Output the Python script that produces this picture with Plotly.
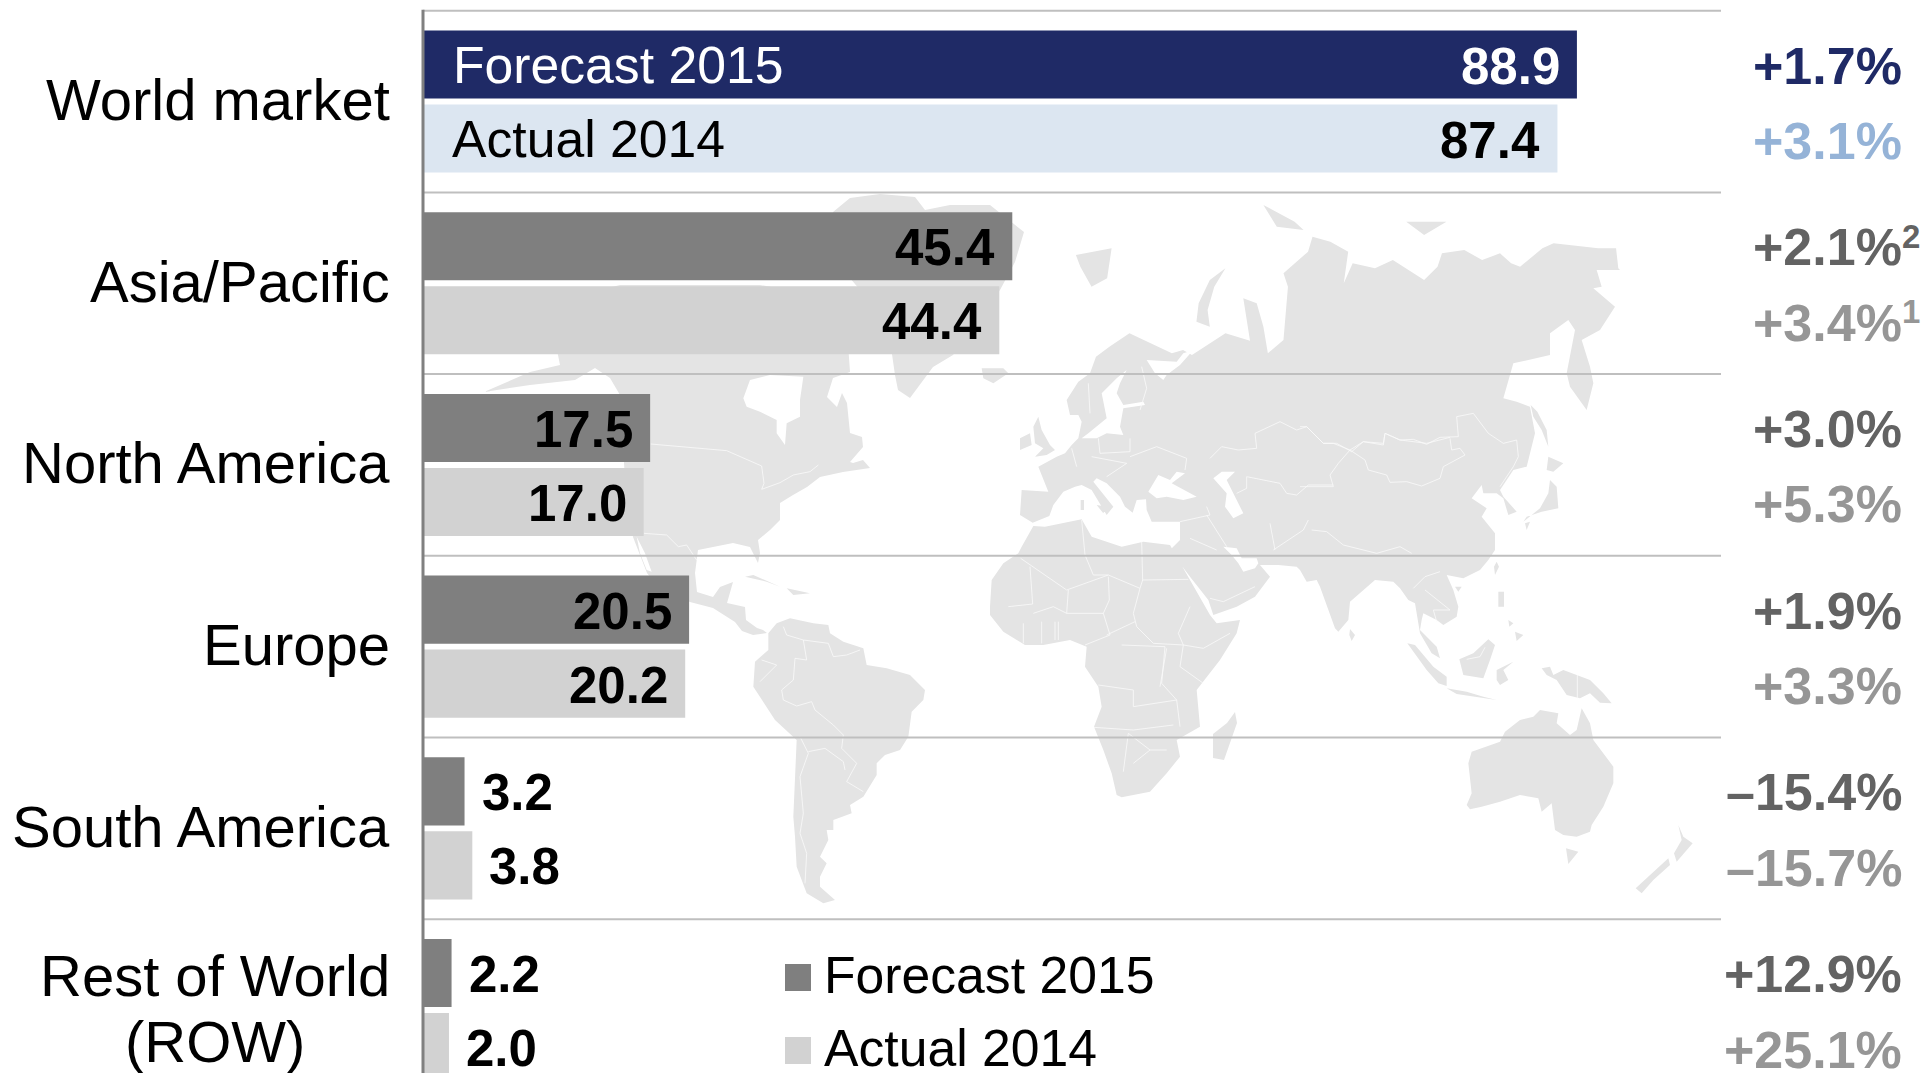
import plotly.graph_objects as go

# ---------- chart data ----------
REGIONS = ["World market", "Asia/Pacific", "North America", "Europe", "South America", "Rest of World (ROW)"]
FORECAST_2015 = [88.9, 45.4, 17.5, 20.5, 3.2, 2.2]
ACTUAL_2014 = [87.4, 44.4, 17.0, 20.2, 3.8, 2.0]
FORECAST_GROWTH = ["+1.7%", "+2.1%", "+3.0%", "+1.9%", "–15.4%", "+12.9%"]
ACTUAL_GROWTH = ["+3.1%", "+3.4%", "+5.3%", "+3.3%", "–15.7%", "+25.1%"]
FORECAST_NOTE = ["", "2", "", "", "", ""]
ACTUAL_NOTE = ["", "1", "", "", "", ""]

FONT = "Liberation Sans, Arial, sans-serif"
NAVY, PALE = "#1F2A66", "#DCE6F1"
DARK, LIGHT = "#7F7F7F", "#D2D2D2"
MAP = "#E4E4E4"

# ---------- background map outlines ----------
# each piece: (origin x, origin y, x scale, y scale, points)
LAND = [
    [(0, 0, 1, 1, [(484,392),(530,372),(560,365),(553,330),(560,300),(620,285),(760,285),(845,300),(850,372),(833,378),(827,397),
                   (837,407),(842,393),(847,403),(850,433),(862,437),(863,447),(850,462),(853,463),(863,460),(870,468),(843,472),
                   (820,477),(807,487),(793,495),(780,503),(780,520),(770,530),(758,540),(760,553),(758,563),(750,547),(733,543),
                   (713,547),(698,550),(695,573),(697,592),(713,597),(720,587),(733,582),(727,603),(745,607),(746,620),(757,628),
                   (763,630),(767,633),(753,635),(742,631),(735,622),(713,608),(690,602),(660,590),(647,573),(633,537),(625,480),
                   (620,395),(610,378),(595,368),(575,380),(530,385)])],
    [(0, 0, 1, 1, [(833,212),(850,198),(880,194),(915,197),(925,210),(950,205),(990,205),(1024,232),(1015,262),(1000,290),(985,310),
                   (953,355),(933,367),(923,380),(910,398),(898,390),(895,375),(892,354),(885,330),(860,290),(835,260)])],
    [(700, 600, 3, 3, [(205,100),(230,70),(270,55),(340,70),(385,75),(390,100),(430,125),(490,145),(500,195),(560,205),(630,225),
                       (675,270),(670,300),(635,335),(625,410),(600,450),(555,465),(530,490),(530,525),(490,590),(450,615),(455,640),
                       (400,660),(400,690),(380,690),(385,720),(360,770),(380,790),(360,830),(360,860),(405,900),(370,910),(320,880),
                       (290,800),(285,710),(280,650),(290,420),(225,360),(160,260),(165,185),(205,150)])],
    [(950, 350, 3, 3, [(250,528),(285,530),(395,508),(425,560),(515,590),(580,575),(660,585),(680,620),(720,690),(780,795),(800,820),
                       (870,810),(860,850),(810,930),(740,1020)]),
     (700, 600, 3, 3, [(1500,380),(1430,420),(1440,470),(1400,520),(1350,575),(1265,592),(1250,585),(1235,520),(1210,450),(1182,380),
                       (1205,320),(1195,260),(1155,200),(1160,140),(1110,120),(1030,135),(975,135),(910,95),(870,45),(870,0)]),
     (950, 350, 3, 3, [(120,770),(125,690),(160,640),(205,610),(215,590)])],
    [(950, 350, 3, 3, [(248,518),(210,495),(215,420),(295,425),(265,350),(320,320),(345,310),(365,285),(385,265),(395,215),(385,195),
                       (360,195),(350,150),(385,95),(420,70)]),
     (1000, 180, 2.24, 3, [(215,530),(245,500),(290,460),(385,520),(410,510),(430,525),(505,460),(560,482),(545,355),(575,370),(590,440),
                           (600,520),(635,480),(645,320),(635,280),(690,215),(700,170),(740,185),(780,215),(770,310),(790,250),(840,265),
                           (880,240),(950,300),(980,260),(990,220),(1040,210),(1080,240),(1120,220),(1145,250),(1165,260),(1215,205),
                           (1240,190),(1340,205),(1380,205),(1385,265)]),
     (1300, 200, 3, 3, [(960,210),(890,210),(905,260),(880,265),(945,320),(900,390),(845,420),(870,500),(880,550),(860,630),(810,560),
                         (800,520),(820,420),(825,390),(805,360),(750,400),(750,465),(640,490),(610,595),(650,605),(690,620),(705,700),
                         (680,800),(640,810),(600,870),(610,890),(650,935),(625,945),(610,895),(590,880),(550,880),(545,855),(515,895),
                         (545,915),(560,925),(545,950),(585,1000),(585,1050)]),
     (1300, 560, 3, 3, [(565,0),(540,30),(490,55),(440,45),(460,90),(475,140),(470,170),(430,195),(410,180),(370,160),(365,180),(360,210),
                         (410,260),(420,295),(395,280),(360,220),(345,130),(325,120),(300,85),(280,65),(225,60),(150,125),(145,180),
                         (115,215),(105,205),(60,80),(50,60),(20,65),(0,30)]),
     (950, 350, 3, 3, [(1050,660),(1040,650),(985,645),(930,645),(960,680),(915,740),(860,770),(790,795),(775,750),(720,680),(660,600),
                        (690,570),(690,515),(605,515),(590,480),(588,448),(560,450),(548,488),(525,470),(510,440),(470,400),(440,385),
                        (430,395),(490,470),(470,495),(425,420),(395,405),(375,410),(340,425),(310,465),(298,498)])],
    [(1300, 560, 3, 3, [(845,445),(870,490),(880,540),(940,620),(940,670),(910,740),(875,795),(870,815),(830,830),(790,825),(765,810),
                        (755,730),(725,755),(715,715),(660,705),(600,725),(545,740),(510,748),(500,735),(515,700),(505,610),(515,575),
                        (600,545),(615,515),(660,480),(700,470),(720,450),(775,460),(770,490),(810,525),(830,510)])],
    [(1300, 560, 3, 3, [(798,865),(835,875),(805,912)])],
    [(1300, 560, 3, 3, [(1135,795),(1150,830),(1178,850),(1130,905),(1122,880),(1145,840)])],
    [(1300, 560, 3, 3, [(1105,895),(1110,915),(1060,960),(1025,1000),(1007,985),(1050,945)])],
    [(1300, 560, 3, 3, [(725,325),(750,320),(760,345),(790,330),(870,360),(910,400),(935,430),(900,428),(870,400),(840,415),(800,405),(770,360),(740,345)])],
    [(1300, 560, 3, 3, [(565,238),(585,255),(570,300),(550,355),(490,345),(478,298),(520,280)])],
    [(1300, 560, 3, 3, [(590,330),(640,305),(610,330),(625,360),(600,375),(590,360)])],
    [(1300, 560, 3, 3, [(322,250),(345,255),(400,320),(440,350),(440,378),(415,370),(380,330)])],
    [(1300, 560, 3, 3, [(440,385),(500,395),(550,410),(590,420),(525,410),(470,402)])],
    [(1300, 560, 3, 3, [(595,95),(612,95),(612,140),(595,140)])],
    [(1300, 560, 3, 3, [(645,215),(670,225),(650,243)])],
    [(1300, 560, 3, 3, [(625,180),(640,190),(628,200)])],
    [(1300, 560, 3, 3, [(150,207),(165,225),(155,243),(148,225)])],
    [(1300, 560, 3, 3, [(465,80),(485,80),(475,95)])],
    [(1300, 200, 3, 3, [(590,1085),(597,1100),(585,1125),(582,1100)])],
    [(1300, 200, 3, 3, [(692,615),(712,635),(740,690),(745,740),(725,690),(700,650)])],
    [(1300, 200, 3, 3, [(745,770),(790,790),(760,815),(740,810)])],
    [(1300, 200, 3, 3, [(750,840),(770,860),(775,925),(725,935),(680,950),(670,965),(720,925),(745,880)])],
    [(1300, 200, 3, 3, [(675,970),(690,965),(680,990)])],
    [(950, 350, 3, 3, [(95,55),(160,55),(175,70),(130,100),(100,85)])],
    [(950, 350, 3, 3, [(265,200),(275,240),(300,285),(315,300),(290,315),(255,320),(280,295),(255,280),(250,230)])],
    [(950, 350, 3, 3, [(210,265),(240,250),(245,285),(210,300)])],
    [(950, 350, 3, 3, [(392,450),(402,450),(402,480),(392,480)])],
    [(950, 350, 3, 3, [(440,465),(470,470),(460,490)])],
    [(1000, 180, 2.24, 3, [(170,225),(250,205),(240,295),(205,320),(180,260)])],
    [(1000, 180, 2.24, 3, [(505,265),(470,300),(445,370),(440,425),(470,440),(465,390),(480,320)])],
    [(1000, 180, 2.24, 3, [(590,75),(620,140),(680,150),(660,125)])],
    [(1000, 180, 2.24, 3, [(910,125),(950,165),(1000,125)])],
    [(0, 0, 1, 1, [(1235,712),(1237,723),(1224,760),(1213,758),(1213,734),(1227,723)])],
    [(580, 340, 3, 3, [(495,710),(520,705),(600,740),(560,725)])],
    [(580, 340, 3, 3, [(620,745),(690,760),(640,765)])],
]
WATER = [
    [(580, 340, 3, 3, [(490,175),(510,120),(570,105),(670,110),(660,180),(660,230),(620,250),(615,315),(590,280),(590,240),(540,215),(500,200)])],
    [(580, 340, 3, 3, [(170,590),(195,640),(215,695),(200,690),(180,640)])],
    [(950, 350, 3, 3, [(595,425),(625,375),(660,390),(680,365),(705,370),(665,400),(740,440),(700,450),(650,440),(620,445)])],
    [(950, 350, 3, 3, [(790,385),(815,365),(855,365),(830,390),(880,490),(850,505),(825,470),(830,430)])],
    [(950, 350, 3, 3, [(820,590),(860,595),(875,625),(920,625),(925,640),(915,655),(880,665),(865,640),(845,615)])],
    [(950, 350, 3, 3, [(395,265),(415,250),(470,205),(455,130),(500,85),(530,60),(510,100),(500,130),(520,165),(580,155),(585,165),(520,175),(510,230),(520,255),(470,250),(440,265)])],
    [(950, 350, 3, 3, [(590,30),(680,35),(700,10),(730,0),(690,45),(650,75),(640,90),(615,70)])],
]
BORDERS = [
    (580, 340, [(212,312),(440,332),(545,378),(552,430),(545,448),(600,428),(640,405),(690,395),(715,375)]),
    (580, 340, [(192,580),(260,585),(295,620),(320,615),(350,660)]),
    (950, 350, [(780,325),(815,290),(865,300),(920,295),(915,250),(990,215),(1040,240),(1070,230),(1120,280),(1160,280),(1205,305)]),
    (950, 350, [(1205,305),(1240,275),(1300,280),(1305,250),(1350,270),(1430,280),(1500,262)]),
    (1300, 200, [(0,680),(20,680),(70,730),(100,730),(150,750),(190,725),(250,735),(255,700),(300,720),(340,718),(380,733),(420,712),(475,710),(470,650),(520,640),(565,700),(610,730),(650,720),(655,770),(640,800),(600,860)]),
    (1300, 200, [(150,750),(195,780),(205,810),(260,825),(270,847),(320,845),(365,858),(420,835),(430,800),(495,765),(480,745),(455,750),(450,715)]),
    (1300, 200, [(150,750),(115,790),(90,825),(100,860),(0,860)]),
    (950, 350, [(1150,405),(1075,405),(1040,435),(1010,430),(990,400),(890,380),(890,415),(860,430)]),
    (950, 350, [(212,625),(350,720),(475,675),(570,715),(578,690),(575,575)]),
    (950, 350, [(578,690),(715,688)]),
    (950, 350, [(475,675),(430,675),(405,615),(395,510)]),
    (950, 350, [(240,650),(248,762),(175,770)]),
    (950, 350, [(570,715),(550,790),(560,830),(610,880),(700,885),(685,850),(720,770)]),
    (950, 350, [(470,855),(555,815)]),
    (950, 350, [(355,720),(350,790),(460,790),(478,750),(475,680)]),
    (950, 350, [(460,790),(480,855),(405,885)]),
    (950, 350, [(700,885),(760,895),(840,850)]),
    (950, 350, [(250,790),(310,770),(350,790)]),
    (950, 350, [(220,820),(220,880)]),
    (950, 350, [(275,815),(275,880)]),
    (950, 350, [(315,815),(315,870)]),
    (950, 350, [(325,815),(325,870)]),
    (950, 350, [(650,895),(640,950),(630,1010)]),
    (950, 350, [(700,885),(690,950),(760,1000)]),
    (700, 600, [(1265,135),(1395,140),(1385,250),(1430,300),(1300,320),(1300,270),(1195,255)]),
    (700, 600, [(1182,382),(1300,390),(1420,375)]),
    (700, 600, [(1270,515),(1285,400),(1350,450),(1400,450)]),
    (700, 600, [(1300,490),(1350,450)]),
    (700, 600, [(1430,300),(1440,380)]),
    (700, 600, [(310,120),(320,180),(285,175),(280,240),(245,270),(250,300),(290,318),(335,305),(345,330),(400,375),(430,405),(425,445),(470,490),(440,545),(490,575)]),
    (700, 600, [(300,410),(325,460),(300,530),(310,640),(300,700),(320,760),(315,850)]),
    (700, 600, [(325,455),(375,445),(430,485),(435,510)]),
    (700, 600, [(250,80),(260,105),(310,120),(385,130),(400,170),(440,165),(480,150)]),
    (700, 600, [(185,180),(230,195),(180,245)]),
    (950, 350, [(445,265),(450,310),(540,305),(540,265)]),
    (950, 350, [(365,295),(380,350)]),
    (950, 350, [(540,320),(620,290),(710,325),(705,360)]),
    (950, 350, [(575,50),(590,115),(570,180)]),
    (950, 350, [(415,100),(420,190)]),
    (950, 350, [(425,320),(530,340),(470,380)]),
    (950, 350, [(770,470),(780,495),(690,515)]),
    (950, 350, [(770,495),(830,590)]),
    (950, 350, [(960,520),(975,600)]),
    (950, 350, [(780,745),(820,755),(915,710)]),
    (950, 350, [(720,565),(800,600)]),
    (950, 350, [(970,600),(1060,540),(1075,510)]),
    (950, 350, [(1085,540),(1130,545),(1180,585),(1280,610),(1350,590),(1385,610)]),
    (1300, 560, [(340,85),(375,50),(420,35)]),
    (1300, 560, [(375,90),(450,150),(400,150),(410,185)]),
    (1300, 560, [(500,298),(540,290),(555,262)]),
    (1300, 560, [(832,345),(832,415)]),
]


def land_xy(shapes):
    xs, ys = [], []
    for shape in shapes:
        first = None
        for ox, oy, sx, sy, pts in shape:
            for px, py in pts:
                p = (ox + px / sx, oy + py / sy)
                first = first or p
                xs.append(p[0])
                ys.append(p[1])
        xs += [first[0], None]
        ys += [first[1], None]
    return xs, ys


def border_xy(lines):
    xs, ys = [], []
    for ox, oy, pts in lines:
        xs += [ox + p[0] / 3 for p in pts] + [None]
        ys += [oy + p[1] / 3 for p in pts] + [None]
    return xs, ys


# ---------- layout constants ----------
W, H = 1924, 1073
X0, PX_PER_UNIT = 423.0, 12.98
GRID0, STEP = 10.7, 181.7
BAR_OFF = 0.2036

fig = go.Figure()
lx, ly = land_xy(LAND)
wx, wy = land_xy(WATER)
bx, by = border_xy(BORDERS)
fig.add_trace(go.Scatter(x=lx, y=ly, mode="lines", fill="toself", fillcolor=MAP, line=dict(width=0, color=MAP), hoverinfo="skip", showlegend=False))
fig.add_trace(go.Scatter(x=wx, y=wy, mode="lines", fill="toself", fillcolor="white", line=dict(width=0, color="white"), hoverinfo="skip", showlegend=False))
fig.add_trace(go.Scatter(x=bx, y=by, mode="lines", line=dict(width=0.8, color="#FAFAFA"), hoverinfo="skip", showlegend=False))

ypos = list(range(len(REGIONS)))
fig.add_trace(go.Bar(name="Forecast 2015", x=FORECAST_2015, y=ypos, orientation="h", xaxis="x2", yaxis="y2",
                     marker=dict(color=[NAVY] + [DARK] * 5, line=dict(width=0)), showlegend=False))
fig.add_trace(go.Bar(name="Actual 2014", x=ACTUAL_2014, y=ypos, orientation="h", xaxis="x2", yaxis="y2",
                     marker=dict(color=[PALE] + [LIGHT] * 5, line=dict(width=0)), showlegend=False))

ann = []
def text(x, y, s, size=51, color="black", bold=False, anchor="left", xref="x", yref="y", xshift=0, yshift=0):
    ann.append(dict(x=x, y=y, xref=xref, yref=yref, text=f"<b>{s}</b>" if bold else s, showarrow=False,
                    xanchor=anchor, yanchor="middle", xshift=xshift, yshift=yshift, align=anchor,
                    font=dict(family=FONT, size=size, color=color)))

# region labels
for i, name in enumerate(REGIONS[:5]):
    text(392, i, name, size=58, anchor="right", yref="y2", yshift=2)
text(215, 975, "Rest of World", size=58, anchor="center")
text(215, 1041, "(ROW)", size=58, anchor="center")

# bar values
for i, (f, a) in enumerate(zip(FORECAST_2015, ACTUAL_2014)):
    for v, off, c in ((f, -BAR_OFF, "white" if i == 0 else "black"), (a, BAR_OFF, "black")):
        inside = v > 10
        text(v, i + off, f"{v:.1f}", bold=True, color=c, xref="x2", yref="y2",
             anchor="right" if inside else "left", xshift=-15 if inside else 15, yshift=-1.5)

# in-bar names
text(451, 0 - BAR_OFF, "Forecast 2015", size=51.7, color="white", yref="y2")
text(450, 0 + BAR_OFF, "Actual 2014", size=51.7, yref="y2")

# growth column
for i in range(len(REGIONS)):
    c1, c2 = (NAVY, "#95B3D7") if i == 0 else ("#636363", "#969696")
    text(1904, i - BAR_OFF, FORECAST_GROWTH[i], size=52, color=c1, bold=True, anchor="right", yref="y2", yshift=-1)
    text(1904, i + BAR_OFF, ACTUAL_GROWTH[i], size=52, color=c2, bold=True, anchor="right", yref="y2", yshift=-2.5)
    if FORECAST_NOTE[i]:
        text(1900, i - BAR_OFF - 0.055, FORECAST_NOTE[i], size=33, color=c1, bold=True, yref="y2", yshift=0)
    if ACTUAL_NOTE[i]:
        text(1900, i + BAR_OFF - 0.055, ACTUAL_NOTE[i], size=33, color=c2, bold=True, yref="y2", yshift=-1)

# legend
text(822, 975, "Forecast 2015", size=51.7)
text(822, 1048, "Actual 2014", size=51.7)

shapes = []
for i in range(6):
    shapes.append(dict(type="line", xref="x2", yref="y2", x0=0, x1=(1721 - X0) / PX_PER_UNIT, y0=i - 0.5, y1=i - 0.5,
                       line=dict(color="#BFBFBF", width=2), layer="above"))
shapes.append(dict(type="line", xref="x", yref="y", x0=423, x1=423, y0=GRID0 - 1, y1=H, line=dict(color="#808080", width=3), layer="above"))
shapes.append(dict(type="rect", xref="x", yref="y", x0=785, x1=811, y0=964, y1=991, fillcolor=DARK, line=dict(width=0)))
shapes.append(dict(type="rect", xref="x", yref="y", x0=785, x1=811, y0=1037, y1=1064, fillcolor=LIGHT, line=dict(width=0)))

hidden = dict(visible=False, fixedrange=True, showgrid=False, zeroline=False)
fig.update_layout(
    width=W, height=H, margin=dict(l=0, r=0, t=0, b=0), paper_bgcolor="white", plot_bgcolor="rgba(0,0,0,0)",
    barmode="group", bargap=0.1855, bargroupgap=0.08, showlegend=False, annotations=ann, shapes=shapes,
    xaxis=dict(range=[0, W], **hidden),
    yaxis=dict(range=[H, 0], **hidden),
    xaxis2=dict(range=[-X0 / PX_PER_UNIT, (W - X0) / PX_PER_UNIT], overlaying="x", anchor="y2", **hidden),
    yaxis2=dict(range=[(H - (GRID0 + STEP / 2)) / STEP, -(GRID0 + STEP / 2) / STEP], overlaying="y", anchor="x2", **hidden),
)
fig.write_html("out.html", config=dict(displayModeBar=False),
               post_script="document.body.style.margin='0';document.body.style.overflow='hidden';")
